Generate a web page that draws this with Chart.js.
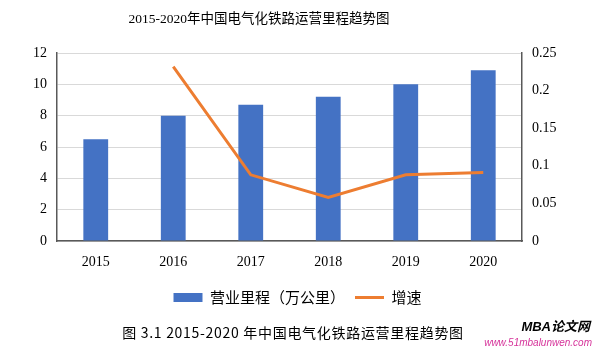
<!DOCTYPE html>
<html><head><meta charset="utf-8">
<script src="https://cdn.jsdelivr.net/npm/chart.js@4/dist/chart.umd.min.js"></script>
<style>html,body{margin:0;padding:0;background:#fff;}#wrap{width:595px;height:351px;}</style>
</head><body><div id="wrap"><canvas id="c" width="595" height="351"></canvas></div>
<script>
const categories = ['2015','2016','2017','2018','2019','2020'];
const mileage = [6.5, 8.0, 8.7, 9.2, 10.0, 10.9];
const growth = [null, 0.232, 0.088, 0.058, 0.088, 0.091];
const leftTicks = [0, 2, 4, 6, 8, 10, 12];
const rightTicks = [0, 0.05, 0.1, 0.15, 0.2, 0.25];
const titleText = '2015-2020年中国电气化铁路运营里程趋势图';
const captionText = '图 3.1 2015-2020 年中国电气化铁路运营里程趋势图';
const seriesNames = ['营业里程（万公里）', '增速'];

const serif = '"Times New Roman", "Liberation Serif", "Noto Sans CJK SC", serif';
const sans = '"Noto Sans CJK SC", sans-serif';

const textPlugin = {
  id: 'texts',
  afterDraw(chart) {
    const ctx = chart.ctx;
    ctx.save();
    ctx.fillStyle = '#000';
    ctx.textBaseline = 'middle';
    ctx.textAlign = 'center';
    ctx.font = '13.5px ' + serif;
    ctx.fillText(titleText, 259, 19);
    ctx.font = '14px ' + sans;
    ctx.letterSpacing = '0.7px';
    ctx.fillText(captionText, 293, 333);
    ctx.letterSpacing = '0px';
    ctx.textAlign = 'right';
    ctx.font = 'italic bold 13px "Liberation Sans", "Noto Sans CJK SC", sans-serif';
    ctx.fillText('MBA论文网', 590, 327);
    ctx.fillStyle = '#d6339a';
    ctx.font = 'italic 10px "Liberation Sans", sans-serif';
    ctx.fillText('www.51mbalunwen.com', 592, 343);
    ctx.restore();
  }
};

new Chart(document.getElementById('c'), {
  data: {
    labels: categories,
    datasets: [
      {
        type: 'line', label: seriesNames[1], data: growth, yAxisID: 'y1',
        borderColor: '#ED7D31', backgroundColor: '#ED7D31', borderWidth: 3,
        pointRadius: 0, pointStyle: 'line', tension: 0, order: 0
      },
      {
        type: 'bar', label: seriesNames[0], data: mileage, yAxisID: 'y',
        backgroundColor: '#4472C4', borderWidth: 0, pointStyle: 'rect',
        categoryPercentage: 1, barPercentage: 0.32, order: 1
      }
    ]
  },
  options: {
    responsive: false, animation: false,
    layout: { padding: { top: 53, left: 0, right: 0, bottom: 36 } },
    plugins: {
      title: { display: false },
      tooltip: { enabled: false },
      legend: {
        position: 'bottom', reverse: true,
        labels: {
          usePointStyle: true, pointStyleWidth: 29, boxHeight: 9,
          color: '#000', padding: 10,
          font: { size: 15, family: sans }
        }
      }
    },
    scales: {
      x: {
        grid: { display: false, drawTicks: false },
        border: { display: true, color: '#595959', width: 1.5 },
        ticks: { color: '#000', padding: 13, font: { size: 14, family: serif } },
        afterFit(s) { s.height = 39; }
      },
      y: {
        position: 'left', min: 0, max: 12,
        afterBuildTicks(s) { s.ticks = leftTicks.map(v => ({ value: v })); },
        grid: { color: '#d9d9d9', drawTicks: false, lineWidth: 1 },
        border: { display: true, color: '#595959', width: 1.5 },
        ticks: { color: '#000', padding: 10, font: { size: 14, family: serif } },
        afterFit(s) { s.width = 57; }
      },
      y1: {
        position: 'right', min: 0, max: 0.25,
        afterBuildTicks(s) { s.ticks = rightTicks.map(v => ({ value: v })); },
        grid: { display: false, drawTicks: false },
        border: { display: true, color: '#595959', width: 1.5 },
        ticks: { color: '#000', padding: 10, font: { size: 14, family: serif },
          callback: v => String(v) },
        afterFit(s) { s.width = 73; }
      }
    }
  },
  plugins: [textPlugin]
});
</script>
</body></html>
